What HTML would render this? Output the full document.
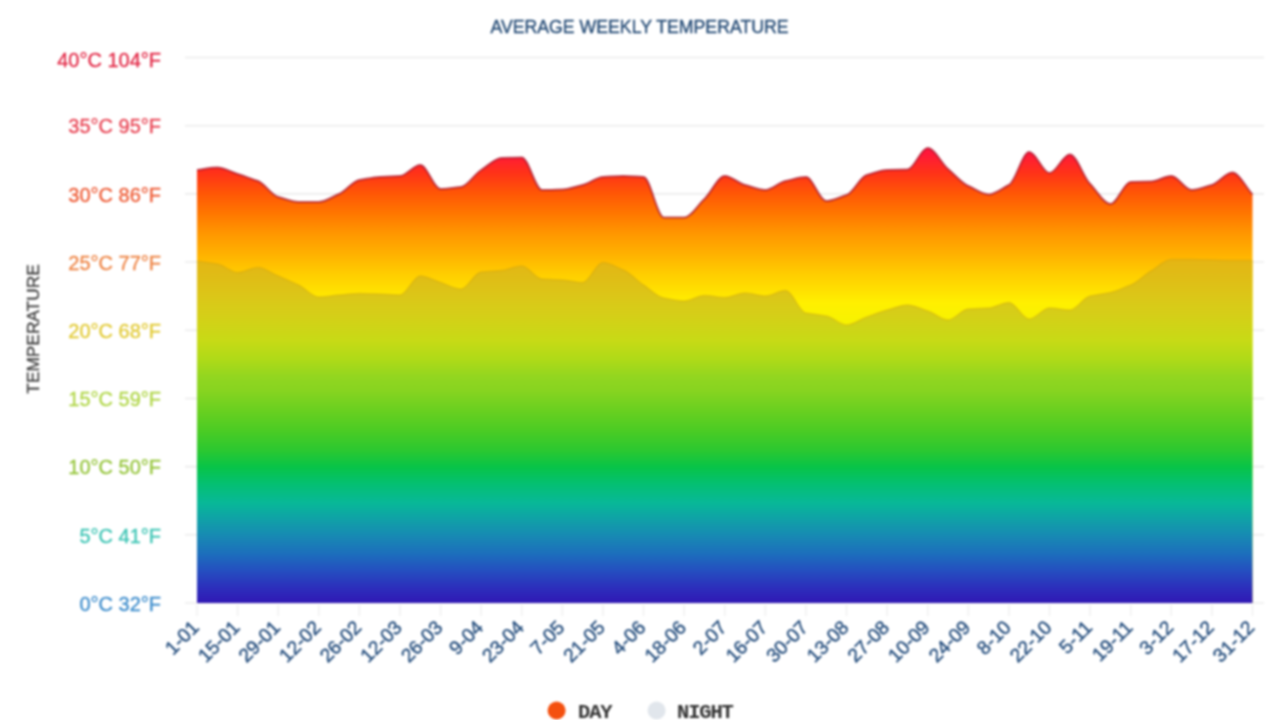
<!DOCTYPE html>
<html lang="en"><head><meta charset="utf-8"><title>Average weekly temperature</title>
<style>html,body{margin:0;padding:0;background:#fff;}body{width:1279px;height:720px;overflow:hidden;}svg{display:block;font-family:"Liberation Sans",sans-serif;filter:blur(0.9px);}.yl{font-size:20px;text-anchor:end;stroke-width:0.3px;}.xl{font-size:19.3px;text-anchor:end;fill:#2a5280;stroke:#2a5280;stroke-width:0.45px;}.lg{font-family:"Liberation Mono",monospace;font-weight:bold;font-size:20.5px;letter-spacing:-1.15px;fill:#333;}</style></head><body>
<svg width="1279" height="720" viewBox="0 0 1279 720">
<defs><linearGradient id="gd" gradientUnits="userSpaceOnUse" x1="0" y1="148" x2="0" y2="330"><stop offset="0.0000" stop-color="#ff1440"/><stop offset="0.0385" stop-color="#ff1a38"/><stop offset="0.1374" stop-color="#ff3218"/><stop offset="0.2473" stop-color="#ff5606"/><stop offset="0.3571" stop-color="#ff7600"/><stop offset="0.4670" stop-color="#ff9600"/><stop offset="0.5769" stop-color="#ffb000"/><stop offset="0.6868" stop-color="#ffcc00"/><stop offset="0.7802" stop-color="#ffe000"/><stop offset="0.8516" stop-color="#fff000"/><stop offset="1.0000" stop-color="#f4f400"/></linearGradient><linearGradient id="gn" gradientUnits="userSpaceOnUse" x1="0" y1="258" x2="0" y2="603"><stop offset="0.0000" stop-color="#e6b414"/><stop offset="0.0493" stop-color="#e0bc16"/><stop offset="0.1072" stop-color="#dcc618"/><stop offset="0.1594" stop-color="#d6ce18"/><stop offset="0.2377" stop-color="#c8da16"/><stop offset="0.2957" stop-color="#aeda18"/><stop offset="0.3449" stop-color="#92d620"/><stop offset="0.3826" stop-color="#88d420"/><stop offset="0.4406" stop-color="#6ad020"/><stop offset="0.4986" stop-color="#4ccc24"/><stop offset="0.5565" stop-color="#2cc830"/><stop offset="0.6058" stop-color="#08c448"/><stop offset="0.6522" stop-color="#04c070"/><stop offset="0.7101" stop-color="#08b898"/><stop offset="0.7594" stop-color="#10a0a8"/><stop offset="0.8087" stop-color="#1888b4"/><stop offset="0.8551" stop-color="#1c70bc"/><stop offset="0.9043" stop-color="#2450c0"/><stop offset="0.9536" stop-color="#2c30bc"/><stop offset="1.0000" stop-color="#3018b4"/></linearGradient></defs>
<rect width="1279" height="720" fill="#fff"/>
<text x="639.5" y="33" text-anchor="middle" font-size="17.7" fill="#284e78" stroke="#284e78" stroke-width="0.4">AVERAGE WEEKLY TEMPERATURE</text>
<g stroke="#ececec" stroke-width="1.6">
<line x1="185" y1="57.50" x2="1264" y2="57.50"/>
<line x1="185" y1="125.69" x2="1264" y2="125.69"/>
<line x1="185" y1="193.88" x2="1264" y2="193.88"/>
<line x1="185" y1="262.06" x2="1264" y2="262.06"/>
<line x1="185" y1="330.25" x2="1264" y2="330.25"/>
<line x1="185" y1="398.44" x2="1264" y2="398.44"/>
<line x1="185" y1="466.62" x2="1264" y2="466.62"/>
<line x1="185" y1="534.81" x2="1264" y2="534.81"/>
<line x1="185" y1="603.00" x2="1264" y2="603.00"/>
</g>
<text class="yl" x="161" y="67.30" fill="#e22846" stroke="#e22846">40°C 104°F</text>
<text class="yl" x="161" y="133.49" fill="#e84252" stroke="#e84252">35°C 95°F</text>
<text class="yl" x="161" y="201.68" fill="#ee5a34" stroke="#ee5a34">30°C 86°F</text>
<text class="yl" x="161" y="269.86" fill="#ee8444" stroke="#ee8444">25°C 77°F</text>
<text class="yl" x="161" y="338.05" fill="#e2ca34" stroke="#e2ca34">20°C 68°F</text>
<text class="yl" x="161" y="406.24" fill="#b0d646" stroke="#b0d646">15°C 59°F</text>
<text class="yl" x="161" y="474.43" fill="#94c438" stroke="#94c438">10°C 50°F</text>
<text class="yl" x="161" y="542.61" fill="#3cc4b4" stroke="#3cc4b4">5°C 41°F</text>
<text class="yl" x="161" y="610.80" fill="#3c8ccc" stroke="#3c8ccc">0°C 32°F</text>
<text transform="translate(38.8,329) rotate(-90)" text-anchor="middle" font-size="17.3" fill="#444" stroke="#444" stroke-width="0.35">TEMPERATURE</text>
<path d="M197.00,170.00 C203.77,169.17 210.53,167.50 217.30,167.50 C224.06,167.50 230.83,171.83 237.60,174.00 C244.36,176.17 251.13,178.67 257.89,181.00 C264.66,183.33 271.43,195.33 278.19,197.00 C284.96,198.67 291.72,202.00 298.49,202.00 C305.26,202.00 312.02,202.00 318.79,202.00 C325.55,202.00 332.32,196.67 339.09,194.00 C345.85,191.33 352.62,181.00 359.38,180.00 C366.15,179.00 372.92,177.33 379.68,177.00 C386.45,176.67 393.21,176.33 399.98,176.00 C406.75,175.67 413.51,165.00 420.28,165.00 C427.04,165.00 433.81,189.00 440.58,189.00 C447.34,189.00 454.11,187.67 460.88,187.00 C467.64,186.33 474.41,174.00 481.17,170.00 C487.94,166.00 494.71,158.17 501.47,158.00 C508.24,157.83 515.00,157.50 521.77,157.50 C528.54,157.50 535.30,190.00 542.07,190.00 C548.83,190.00 555.60,189.67 562.37,189.50 C569.13,189.33 575.90,186.50 582.66,185.00 C589.43,183.50 596.20,177.33 602.96,177.00 C609.73,176.67 616.49,176.00 623.26,176.00 C630.03,176.00 636.79,176.67 643.56,177.00 C650.32,177.33 657.09,217.50 663.86,217.50 C670.62,217.50 677.39,217.50 684.15,217.50 C690.92,217.50 697.69,205.17 704.45,199.00 C711.22,192.83 717.98,176.00 724.75,176.00 C731.52,176.00 738.28,183.33 745.05,185.00 C751.81,186.67 758.58,190.00 765.35,190.00 C772.11,190.00 778.88,182.33 785.64,181.00 C792.41,179.67 799.18,177.00 805.94,177.00 C812.71,177.00 819.47,201.00 826.24,201.00 C833.01,201.00 839.77,197.00 846.54,195.00 C853.30,193.00 860.07,176.67 866.84,175.00 C873.60,173.33 880.37,170.17 887.13,170.00 C893.90,169.83 900.67,169.67 907.43,169.50 C914.20,169.33 920.96,148.00 927.73,148.00 C934.50,148.00 941.26,163.33 948.03,169.00 C954.79,174.67 961.56,183.17 968.33,186.00 C975.09,188.83 981.86,194.50 988.62,194.50 C995.39,194.50 1002.16,188.17 1008.92,185.00 C1015.69,181.83 1022.46,152.00 1029.22,152.00 C1035.99,152.00 1042.75,173.00 1049.52,173.00 C1056.29,173.00 1063.05,154.50 1069.82,154.50 C1076.58,154.50 1083.35,177.33 1090.12,184.00 C1096.88,190.67 1103.65,204.00 1110.41,204.00 C1117.18,204.00 1123.95,182.17 1130.71,182.00 C1137.48,181.83 1144.24,181.67 1151.01,181.50 C1157.78,181.33 1164.54,176.00 1171.31,176.00 C1178.07,176.00 1184.84,190.00 1191.61,190.00 C1198.37,190.00 1205.14,186.67 1211.90,185.00 C1218.67,183.33 1225.44,172.50 1232.20,172.50 C1238.97,172.50 1245.73,187.17 1252.50,194.50 L1252.50,603.00 L197.00,603.00 Z" fill="url(#gd)"/>
<path d="M197.00,261.00 C203.77,262.00 210.53,263.00 217.30,264.00 C224.06,265.00 230.83,272.50 237.60,272.50 C244.36,272.50 251.13,267.50 257.89,267.50 C264.66,267.50 271.43,273.17 278.19,276.00 C284.96,278.83 291.72,282.00 298.49,285.00 C305.26,288.00 312.02,297.00 318.79,297.00 C325.55,297.00 332.32,295.50 339.09,295.00 C345.85,294.50 352.62,293.50 359.38,293.50 C366.15,293.50 372.92,293.83 379.68,294.00 C386.45,294.17 393.21,295.00 399.98,295.00 C406.75,295.00 413.51,276.00 420.28,276.00 C427.04,276.00 433.81,280.33 440.58,282.50 C447.34,284.67 454.11,289.00 460.88,289.00 C467.64,289.00 474.41,272.50 481.17,272.00 C487.94,271.50 494.71,271.00 501.47,270.50 C508.24,270.00 515.00,266.00 521.77,266.00 C528.54,266.00 535.30,278.67 542.07,279.00 C548.83,279.33 555.60,279.67 562.37,280.00 C569.13,280.33 575.90,282.50 582.66,282.50 C589.43,282.50 596.20,262.50 602.96,262.50 C609.73,262.50 616.49,267.50 623.26,270.00 C630.03,272.50 636.79,280.67 643.56,285.00 C650.32,289.33 657.09,297.00 663.86,298.00 C670.62,299.00 677.39,301.00 684.15,301.00 C690.92,301.00 697.69,295.50 704.45,295.50 C711.22,295.50 717.98,297.50 724.75,297.50 C731.52,297.50 738.28,293.00 745.05,293.00 C751.81,293.00 758.58,296.00 765.35,296.00 C772.11,296.00 778.88,290.50 785.64,290.50 C792.41,290.50 799.18,312.00 805.94,313.00 C812.71,314.00 819.47,315.00 826.24,316.00 C833.01,317.00 839.77,325.00 846.54,325.00 C853.30,325.00 860.07,319.33 866.84,317.00 C873.60,314.67 880.37,311.67 887.13,310.00 C893.90,308.33 900.67,305.00 907.43,305.00 C914.20,305.00 920.96,309.00 927.73,311.00 C934.50,313.00 941.26,320.00 948.03,320.00 C954.79,320.00 961.56,309.33 968.33,309.00 C975.09,308.67 981.86,308.33 988.62,308.00 C995.39,307.67 1002.16,302.50 1008.92,302.50 C1015.69,302.50 1022.46,319.00 1029.22,319.00 C1035.99,319.00 1042.75,308.00 1049.52,308.00 C1056.29,308.00 1063.05,310.00 1069.82,310.00 C1076.58,310.00 1083.35,297.17 1090.12,296.00 C1096.88,294.83 1103.65,293.67 1110.41,292.50 C1117.18,291.33 1123.95,287.50 1130.71,285.00 C1137.48,282.50 1144.24,274.83 1151.01,271.00 C1157.78,267.17 1164.54,259.50 1171.31,259.50 C1178.07,259.50 1184.84,259.50 1191.61,259.50 C1198.37,259.50 1205.14,259.83 1211.90,260.00 C1218.67,260.17 1225.44,260.50 1232.20,260.50 C1238.97,260.50 1245.73,260.50 1252.50,260.50 L1252.50,603.00 L197.00,603.00 Z" fill="url(#gn)"/>
<path d="M197.00,261.00 C203.77,262.00 210.53,263.00 217.30,264.00 C224.06,265.00 230.83,272.50 237.60,272.50 C244.36,272.50 251.13,267.50 257.89,267.50 C264.66,267.50 271.43,273.17 278.19,276.00 C284.96,278.83 291.72,282.00 298.49,285.00 C305.26,288.00 312.02,297.00 318.79,297.00 C325.55,297.00 332.32,295.50 339.09,295.00 C345.85,294.50 352.62,293.50 359.38,293.50 C366.15,293.50 372.92,293.83 379.68,294.00 C386.45,294.17 393.21,295.00 399.98,295.00 C406.75,295.00 413.51,276.00 420.28,276.00 C427.04,276.00 433.81,280.33 440.58,282.50 C447.34,284.67 454.11,289.00 460.88,289.00 C467.64,289.00 474.41,272.50 481.17,272.00 C487.94,271.50 494.71,271.00 501.47,270.50 C508.24,270.00 515.00,266.00 521.77,266.00 C528.54,266.00 535.30,278.67 542.07,279.00 C548.83,279.33 555.60,279.67 562.37,280.00 C569.13,280.33 575.90,282.50 582.66,282.50 C589.43,282.50 596.20,262.50 602.96,262.50 C609.73,262.50 616.49,267.50 623.26,270.00 C630.03,272.50 636.79,280.67 643.56,285.00 C650.32,289.33 657.09,297.00 663.86,298.00 C670.62,299.00 677.39,301.00 684.15,301.00 C690.92,301.00 697.69,295.50 704.45,295.50 C711.22,295.50 717.98,297.50 724.75,297.50 C731.52,297.50 738.28,293.00 745.05,293.00 C751.81,293.00 758.58,296.00 765.35,296.00 C772.11,296.00 778.88,290.50 785.64,290.50 C792.41,290.50 799.18,312.00 805.94,313.00 C812.71,314.00 819.47,315.00 826.24,316.00 C833.01,317.00 839.77,325.00 846.54,325.00 C853.30,325.00 860.07,319.33 866.84,317.00 C873.60,314.67 880.37,311.67 887.13,310.00 C893.90,308.33 900.67,305.00 907.43,305.00 C914.20,305.00 920.96,309.00 927.73,311.00 C934.50,313.00 941.26,320.00 948.03,320.00 C954.79,320.00 961.56,309.33 968.33,309.00 C975.09,308.67 981.86,308.33 988.62,308.00 C995.39,307.67 1002.16,302.50 1008.92,302.50 C1015.69,302.50 1022.46,319.00 1029.22,319.00 C1035.99,319.00 1042.75,308.00 1049.52,308.00 C1056.29,308.00 1063.05,310.00 1069.82,310.00 C1076.58,310.00 1083.35,297.17 1090.12,296.00 C1096.88,294.83 1103.65,293.67 1110.41,292.50 C1117.18,291.33 1123.95,287.50 1130.71,285.00 C1137.48,282.50 1144.24,274.83 1151.01,271.00 C1157.78,267.17 1164.54,259.50 1171.31,259.50 C1178.07,259.50 1184.84,259.50 1191.61,259.50 C1198.37,259.50 1205.14,259.83 1211.90,260.00 C1218.67,260.17 1225.44,260.50 1232.20,260.50 C1238.97,260.50 1245.73,260.50 1252.50,260.50" fill="none" stroke="#c89a10" stroke-opacity="0.35" stroke-width="1.5"/>
<path d="M197.00,170.00 C203.77,169.17 210.53,167.50 217.30,167.50 C224.06,167.50 230.83,171.83 237.60,174.00 C244.36,176.17 251.13,178.67 257.89,181.00 C264.66,183.33 271.43,195.33 278.19,197.00 C284.96,198.67 291.72,202.00 298.49,202.00 C305.26,202.00 312.02,202.00 318.79,202.00 C325.55,202.00 332.32,196.67 339.09,194.00 C345.85,191.33 352.62,181.00 359.38,180.00 C366.15,179.00 372.92,177.33 379.68,177.00 C386.45,176.67 393.21,176.33 399.98,176.00 C406.75,175.67 413.51,165.00 420.28,165.00 C427.04,165.00 433.81,189.00 440.58,189.00 C447.34,189.00 454.11,187.67 460.88,187.00 C467.64,186.33 474.41,174.00 481.17,170.00 C487.94,166.00 494.71,158.17 501.47,158.00 C508.24,157.83 515.00,157.50 521.77,157.50 C528.54,157.50 535.30,190.00 542.07,190.00 C548.83,190.00 555.60,189.67 562.37,189.50 C569.13,189.33 575.90,186.50 582.66,185.00 C589.43,183.50 596.20,177.33 602.96,177.00 C609.73,176.67 616.49,176.00 623.26,176.00 C630.03,176.00 636.79,176.67 643.56,177.00 C650.32,177.33 657.09,217.50 663.86,217.50 C670.62,217.50 677.39,217.50 684.15,217.50 C690.92,217.50 697.69,205.17 704.45,199.00 C711.22,192.83 717.98,176.00 724.75,176.00 C731.52,176.00 738.28,183.33 745.05,185.00 C751.81,186.67 758.58,190.00 765.35,190.00 C772.11,190.00 778.88,182.33 785.64,181.00 C792.41,179.67 799.18,177.00 805.94,177.00 C812.71,177.00 819.47,201.00 826.24,201.00 C833.01,201.00 839.77,197.00 846.54,195.00 C853.30,193.00 860.07,176.67 866.84,175.00 C873.60,173.33 880.37,170.17 887.13,170.00 C893.90,169.83 900.67,169.67 907.43,169.50 C914.20,169.33 920.96,148.00 927.73,148.00 C934.50,148.00 941.26,163.33 948.03,169.00 C954.79,174.67 961.56,183.17 968.33,186.00 C975.09,188.83 981.86,194.50 988.62,194.50 C995.39,194.50 1002.16,188.17 1008.92,185.00 C1015.69,181.83 1022.46,152.00 1029.22,152.00 C1035.99,152.00 1042.75,173.00 1049.52,173.00 C1056.29,173.00 1063.05,154.50 1069.82,154.50 C1076.58,154.50 1083.35,177.33 1090.12,184.00 C1096.88,190.67 1103.65,204.00 1110.41,204.00 C1117.18,204.00 1123.95,182.17 1130.71,182.00 C1137.48,181.83 1144.24,181.67 1151.01,181.50 C1157.78,181.33 1164.54,176.00 1171.31,176.00 C1178.07,176.00 1184.84,190.00 1191.61,190.00 C1198.37,190.00 1205.14,186.67 1211.90,185.00 C1218.67,183.33 1225.44,172.50 1232.20,172.50 C1238.97,172.50 1245.73,187.17 1252.50,194.50" fill="none" stroke="#a81028" stroke-opacity="0.7" stroke-width="2" stroke-linejoin="round"/>
<g stroke="#f0f0f0" stroke-width="1.5">
<line x1="197.00" y1="605" x2="197.00" y2="616"/>
<line x1="237.60" y1="605" x2="237.60" y2="616"/>
<line x1="278.19" y1="605" x2="278.19" y2="616"/>
<line x1="318.79" y1="605" x2="318.79" y2="616"/>
<line x1="359.38" y1="605" x2="359.38" y2="616"/>
<line x1="399.98" y1="605" x2="399.98" y2="616"/>
<line x1="440.58" y1="605" x2="440.58" y2="616"/>
<line x1="481.17" y1="605" x2="481.17" y2="616"/>
<line x1="521.77" y1="605" x2="521.77" y2="616"/>
<line x1="562.37" y1="605" x2="562.37" y2="616"/>
<line x1="602.96" y1="605" x2="602.96" y2="616"/>
<line x1="643.56" y1="605" x2="643.56" y2="616"/>
<line x1="684.15" y1="605" x2="684.15" y2="616"/>
<line x1="724.75" y1="605" x2="724.75" y2="616"/>
<line x1="765.35" y1="605" x2="765.35" y2="616"/>
<line x1="805.94" y1="605" x2="805.94" y2="616"/>
<line x1="846.54" y1="605" x2="846.54" y2="616"/>
<line x1="887.13" y1="605" x2="887.13" y2="616"/>
<line x1="927.73" y1="605" x2="927.73" y2="616"/>
<line x1="968.33" y1="605" x2="968.33" y2="616"/>
<line x1="1008.92" y1="605" x2="1008.92" y2="616"/>
<line x1="1049.52" y1="605" x2="1049.52" y2="616"/>
<line x1="1090.12" y1="605" x2="1090.12" y2="616"/>
<line x1="1130.71" y1="605" x2="1130.71" y2="616"/>
<line x1="1171.31" y1="605" x2="1171.31" y2="616"/>
<line x1="1211.90" y1="605" x2="1211.90" y2="616"/>
<line x1="1252.50" y1="605" x2="1252.50" y2="616"/>
</g>
<text class="xl" transform="translate(200.20,628.6) rotate(-45)">1-01</text>
<text class="xl" transform="translate(240.80,628.6) rotate(-45)">15-01</text>
<text class="xl" transform="translate(281.39,628.6) rotate(-45)">29-01</text>
<text class="xl" transform="translate(321.99,628.6) rotate(-45)">12-02</text>
<text class="xl" transform="translate(362.58,628.6) rotate(-45)">26-02</text>
<text class="xl" transform="translate(403.18,628.6) rotate(-45)">12-03</text>
<text class="xl" transform="translate(443.78,628.6) rotate(-45)">26-03</text>
<text class="xl" transform="translate(484.37,628.6) rotate(-45)">9-04</text>
<text class="xl" transform="translate(524.97,628.6) rotate(-45)">23-04</text>
<text class="xl" transform="translate(565.57,628.6) rotate(-45)">7-05</text>
<text class="xl" transform="translate(606.16,628.6) rotate(-45)">21-05</text>
<text class="xl" transform="translate(646.76,628.6) rotate(-45)">4-06</text>
<text class="xl" transform="translate(687.35,628.6) rotate(-45)">18-06</text>
<text class="xl" transform="translate(727.95,628.6) rotate(-45)">2-07</text>
<text class="xl" transform="translate(768.55,628.6) rotate(-45)">16-07</text>
<text class="xl" transform="translate(809.14,628.6) rotate(-45)">30-07</text>
<text class="xl" transform="translate(849.74,628.6) rotate(-45)">13-08</text>
<text class="xl" transform="translate(890.33,628.6) rotate(-45)">27-08</text>
<text class="xl" transform="translate(930.93,628.6) rotate(-45)">10-09</text>
<text class="xl" transform="translate(971.53,628.6) rotate(-45)">24-09</text>
<text class="xl" transform="translate(1012.12,628.6) rotate(-45)">8-10</text>
<text class="xl" transform="translate(1052.72,628.6) rotate(-45)">22-10</text>
<text class="xl" transform="translate(1093.32,628.6) rotate(-45)">5-11</text>
<text class="xl" transform="translate(1133.91,628.6) rotate(-45)">19-11</text>
<text class="xl" transform="translate(1174.51,628.6) rotate(-45)">3-12</text>
<text class="xl" transform="translate(1215.10,628.6) rotate(-45)">17-12</text>
<text class="xl" transform="translate(1255.70,628.6) rotate(-45)">31-12</text>
<circle cx="556.6" cy="710.5" r="9" fill="#f4500f"/>
<text class="lg" x="578" y="718">DAY</text>
<circle cx="656.6" cy="710.5" r="9" fill="#e1e6ec"/>
<text class="lg" x="677" y="718">NIGHT</text>
</svg></body></html>
